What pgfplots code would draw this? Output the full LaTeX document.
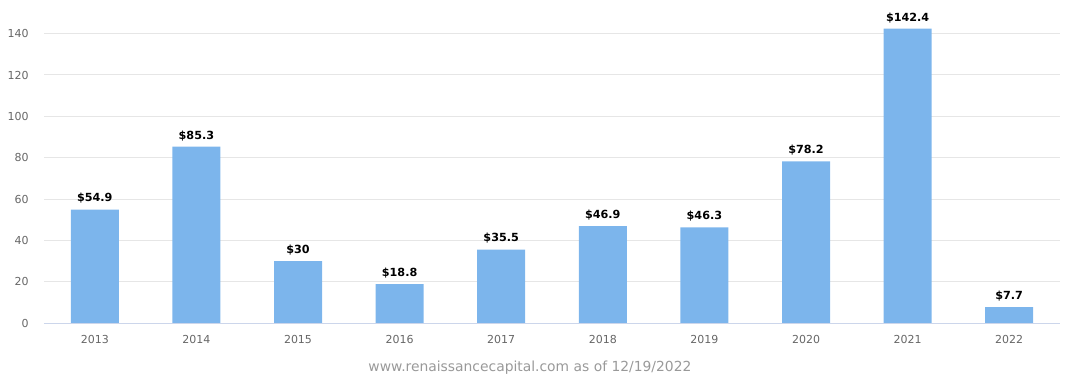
\documentclass[border=0pt]{standalone}
\usepackage{fontspec}
\setmainfont{DejaVu Sans}
\usepackage{pgfplots}
\pgfplotsset{compat=1.18}
\definecolor{barblue}{HTML}{7CB5EC}
\definecolor{gridc}{HTML}{E6E6E6}
\definecolor{axisc}{HTML}{CCD6EB}
\definecolor{tickc}{HTML}{666666}
\definecolor{srcc}{HTML}{999999}
\begin{document}
\begin{tikzpicture}[x=0.75pt,y=0.75pt]
\begin{axis}[
  scale only axis,
  width=762pt, height=232.5pt,
  xmin=-0.5, xmax=9.5, ymin=0, ymax=150,
  axis line style={draw=none},
  axis x line*=bottom,
  axis y line*=left,
  ytick={0,20,...,140},
  xtick={0,...,9},
  xticklabels={2013,2014,2015,2016,2017,2018,2019,2020,2021,2022},
  ymajorgrids, grid style={gridc, line width=0.75pt},
  major tick length=0pt,
  tick label style={font=\fontsize{8.25}{10}\selectfont, text=tickc},
  /pgf/number format/assume math mode=true,
  xticklabel style={yshift=-6pt},
  yticklabel style={xshift=-8pt},
  clip=false,
  ybar, bar width=36pt,
  nodes near coords={\$\pgfmathprintnumber{\pgfplotspointmeta}},
  nodes near coords style={font=\bfseries\fontsize{8.4}{10}\selectfont, text=black, yshift=1pt},
  every node near coord/.append style={/pgf/number format/assume math mode=true},
]
\addplot[fill=barblue, draw=none] coordinates {
(0,54.9) (1,85.3) (2,30) (3,18.8) (4,35.5) (5,46.9) (6,46.3) (7,78.2) (8,142.4) (9,7.7)};
\draw[axisc, line width=0.75pt] (axis cs:-0.5,0) -- (axis cs:9.5,0);
\path[use as bounding box] ([xshift=-33pt,yshift=-41.25pt]rel axis cs:0,0) rectangle ([xshift=16.5pt,yshift=9.75pt]rel axis cs:1,1);
\node[font=\fontsize{10.4}{12}\selectfont, text=srcc] at ([yshift=-33.75pt]rel axis cs:0.4783,0) {www.renaissancecapital.com as of 12/19/2022};
\end{axis}
\end{tikzpicture}
\end{document}
